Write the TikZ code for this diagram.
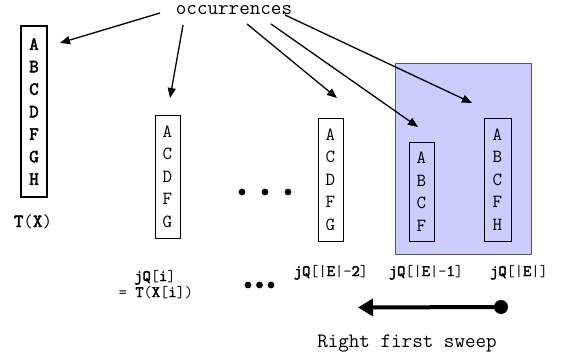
\documentclass[tikz,border=0pt]{standalone}
\usepackage{fontspec}
\setmonofont{Latin Modern Mono}[AutoFakeBold=2.5]
\usetikzlibrary{arrows.meta}
\newcommand\bo[1]{\textbf{#1}}
\begin{document}
\begin{tikzpicture}[x=1pt,y=-1pt,
  colbox/.style={draw=black, line width=0.9pt, inner sep=0pt, align=center,
    font=\ttfamily\fontsize{18.5}{22.5}\selectfont},
  thickbox/.style={colbox, line width=2.4pt, font=\ttfamily\bfseries\fontsize{18.5}{22.5}\selectfont},
  lbl/.style={inner sep=0pt, anchor=base, font=\ttfamily\fontsize{16}{17}\selectfont},
  bigtxt/.style={inner sep=0pt, anchor=base, font=\ttfamily\fontsize{20.5}{22}\selectfont},
  occarrow/.style={-{Triangle[length=10pt,width=8pt]}, line width=1.3pt},
  dotnode/.style={circle, fill=black, inner sep=0pt, minimum size=6.8pt},
]
\useasboundingbox (0,0) rectangle (564,358);

% highlighted region
\node[draw=black!65, line width=0.8pt, fill={rgb,255:red,204;green,204;blue,255},
      minimum width=136pt, minimum height=191pt, inner sep=0pt] (hl) at (463,158.5) {};

% columns
\node[thickbox, minimum width=26pt, minimum height=171pt] (b0) at (34,111.5)
  {A\\B\\C\\D\\F\\G\\H};
\node[colbox, minimum width=25pt, minimum height=123pt] (b1) at (167.5,176.5)
  {A\\C\\D\\F\\G};
\node[colbox, minimum width=25pt, minimum height=123pt] (b2) at (330.5,179.5)
  {A\\C\\D\\F\\G};
\node[colbox, minimum width=25pt, minimum height=99pt] (b3) at (421.5,191.5)
  {A\\B\\C\\F};
\node[colbox, minimum width=27pt, minimum height=123pt] (b4) at (497.5,179.5)
  {A\\B\\C\\F\\H};

% title and arrows
\node[bigtxt] (occ) at (234,15) {occurrences};
\coordinate (s1) at (160,13);   \coordinate (t1) at (60,43);
\coordinate (s2) at (183,25);   \coordinate (t2) at (170,98);
\coordinate (s3) at (247,24);   \coordinate (t3) at (337,98);
\coordinate (s4) at (271,24);   \coordinate (t4) at (418,127);
\coordinate (s5) at (285,15);   \coordinate (t5) at (472,103);
\draw[occarrow] (s1) -- (t1);
\draw[occarrow] (s2) -- (t2);
\draw[occarrow] (s3) -- (t3);
\draw[occarrow] (s4) -- (t4);
\draw[occarrow] (s5) -- (t5);

% dots
\node[dotnode] (d1) at (242,192) {};
\node[dotnode] (d2) at (265,192) {};
\node[dotnode] (d3) at (288,192) {};
\node[dotnode] (e1) at (248,285) {};
\node[dotnode] (e2) at (259.5,285) {};
\node[dotnode] (e3) at (271,285) {};

% labels
\node[lbl, font=\ttfamily\fontsize{18.5}{19}\selectfont] (ltx) at (33,227) {\bo{T}(\bo{X})};
\node[lbl] (lji) at (155,281) {\bo{jQ}[\bo{i}]};
\node[lbl] (ltxi) at (156,297) {= \bo{T}(\bo{X}[\bo{i}])};
\node[lbl] (lj2) at (331,276) {\bo{jQ}[|\bo{E}|-\bo{2}]};
\node[lbl] (lj1) at (426,276) {\bo{jQ}[|\bo{E}|-\bo{1}]};
\node[lbl] (lj0) at (519,276) {\bo{jQ}[|\bo{E}|]};

% sweep
\node[circle, fill=black, inner sep=0pt, minimum size=14pt] (sdot) at (501,307) {};
\coordinate (stip) at (358,307.5);
\draw[line width=4pt, -{Triangle[length=15pt,width=17pt]}] (sdot.center) -- (stip);
\node[bigtxt] (sweep) at (407,347) {Right first sweep};
\end{tikzpicture}
\end{document}
